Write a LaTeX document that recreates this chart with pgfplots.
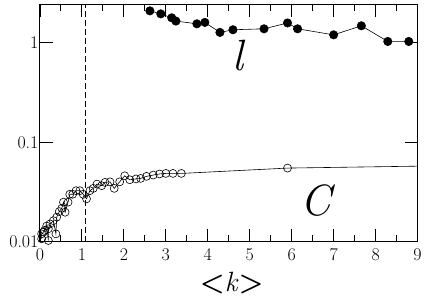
\documentclass[border=0pt]{standalone}
\usepackage{pgfplots}
\pgfplotsset{compat=1.18}
\begin{document}
\begin{tikzpicture}
\begin{axis}[
  scale only axis, width=378bp, height=238bp,
  xmin=0, xmax=9, ymode=log, ymin=0.01, ymax=2.45,
  xtick={0,1,...,9}, minor xtick={0.5,1.5,...,8.5},
  ytick={0.01,0.1,1}, yticklabels={0.01,0.1,1},
  log basis y=10,
  tick align=inside,
  major tick length=13bp, minor tick length=7bp,
  tick style={line width=0.9pt, black},
  axis line style={line width=1pt},
  every tick label/.append style={font=\fontsize{18}{18}\selectfont},
  /pgf/number format/assume math mode=true,
  xticklabel style={yshift=-3bp},
  yticklabel style={xshift=2bp},
  xlabel={{\bfseries<}\textit{k}{\bfseries>}},
  xlabel style={font=\fontsize{28}{28}\selectfont, yshift=-5bp, xshift=3bp},
  clip=true,
]
\addplot[black, line width=0.6pt, mark=*, mark size=4.2bp, mark options={solid, fill=black}] coordinates {
(2.62,2.09)(2.88,1.95)(3.14,1.78)(3.24,1.65)(3.74,1.55)(3.93,1.60)(4.29,1.27)(4.60,1.35)(5.34,1.38)(5.90,1.58)(6.14,1.38)(7.00,1.20)(7.66,1.48)(8.29,1.03)(8.79,1.03)
};
\addplot[black, line width=0.6pt, mark=o, mark size=4bp, mark options={solid, line width=0.6pt}] coordinates {
(0.04,0.0107)(0.04,0.0120)(0.08,0.0125)(0.11,0.0130)(0.16,0.0144)(0.20,0.0103)(0.20,0.0135)(0.24,0.0151)(0.32,0.0163)(0.38,0.0120)(0.40,0.0177)(0.46,0.0201)(0.52,0.0217)(0.56,0.0250)(0.60,0.0198)(0.67,0.0250)(0.71,0.0300)(0.78,0.0300)(0.86,0.0326)(0.95,0.0326)(1.03,0.0300)(1.11,0.0270)(1.19,0.0326)(1.27,0.0344)(1.36,0.0380)(1.47,0.0366)(1.55,0.0395)(1.67,0.0400)(1.77,0.0344)(1.90,0.0400)(2.02,0.0460)(2.14,0.0420)(2.29,0.0428)(2.40,0.0433)(2.54,0.0454)(2.70,0.0468)(2.85,0.0480)(3.00,0.0486)(3.17,0.0486)(3.37,0.0486)(5.90,0.0550)
};
\addplot[black, line width=0.6pt, no marks] coordinates {(5.90,0.0550)(9.00,0.0575)};
\addplot[black, line width=0.8pt, dash pattern=on 6bp off 3bp] coordinates {(1.08,0.01)(1.08,2.45)};
\node[font=\fontsize{44}{44}\selectfont\itshape] at (axis cs:4.71,0.74) {l};
\node[font=\fontsize{44}{44}\selectfont\itshape] at (axis cs:6.57,0.026) {C};
\end{axis}
\path (current axis.south west) ++(-40bp,-53bp) coordinate (bl);
\path (current axis.north east) ++(7bp,4bp) coordinate (tr);
\useasboundingbox (bl) rectangle (tr);
\end{tikzpicture}
\end{document}
